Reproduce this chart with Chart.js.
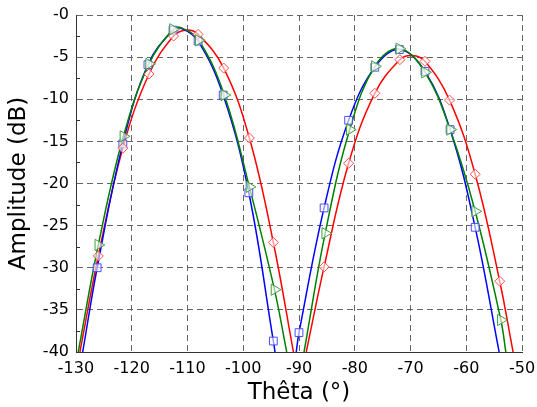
<!DOCTYPE html>
<html>
<head>
<meta charset="utf-8">
<script src="https://cdn.jsdelivr.net/npm/chart.js@4"></script>
<style>
  body { margin: 0; background: #fff; }
  .chart-box { width: 537px; height: 407px; }
  .chart-box canvas { display: block; }
</style>
</head>
<body>
<div class="chart-box"><canvas id="chart" width="537" height="407"></canvas></div>
<script>
// tick labels
const xTickValues = [-130, -120, -110, -100, -90, -80, -70, -60, -50];
const yTickLabels = ["-0", "-5", "-10", "-15", "-20", "-25", "-30", "-35", "-40"];

// blue (squares)
const blueMarkX = [-126.2, -121.6, -117.1, -112.6, -108.1, -103.6, -99.0, -94.6, -90.0, -85.5, -81.1, -76.4, -72.0, -67.4, -62.9, -58.4];
const blueMarkY = [-30.0, -15.3, -5.9, -1.8, -3.1, -9.5, -21.1, -38.7, -37.7, -22.9, -12.5, -6.2, -4.1, -6.7, -13.6, -25.2];
const blueCurveX = [-128.8, -126.2, -121.6, -117.1, -112.6, -111.0, -108.1, -103.6, -99.0, -94.6, -94.3, null, -90.5, -90.0, -85.5, -81.1, -76.4, -72.0, -67.4, -62.9, -58.4, -54.1];
const blueCurveY = [-40, -30.0, -15.3, -5.9, -1.8, -1.6, -3.1, -9.5, -21.1, -38.7, -40, null, -40, -37.7, -22.9, -12.5, -6.2, -4.1, -6.7, -13.6, -25.2, -40];

// green (triangles)
const greenMarkX = [-126.0, -121.5, -116.9, -112.6, -108.0, -103.4, -98.9, -94.4, -85.3, -80.9, -76.4, -72.0, -67.4, -62.9, -58.4, -53.8];
const greenMarkY = [-27.3, -14.4, -5.8, -1.7, -3.0, -9.5, -20.4, -32.6, -25.9, -13.6, -6.1, -4.0, -6.8, -13.6, -23.3, -36.2];
const greenCurveX = [-129.6, -126.0, -121.5, -116.9, -112.6, -111.2, -108.0, -103.4, -98.9, -94.4, -92.2, null, -89.1, -85.3, -80.9, -76.4, -72.0, -67.4, -62.9, -58.4, -53.8, -52.9];
const greenCurveY = [-40, -27.3, -14.4, -5.8, -1.7, -1.5, -3.0, -9.5, -20.4, -32.6, -40, null, -40, -25.9, -13.6, -6.1, -4.0, -6.8, -13.6, -23.3, -36.2, -40];

// red (diamonds)
const redMarkX = [-126.0, -121.6, -116.9, -112.5, -108.1, -103.5, -98.9, -94.6, -85.5, -81.1, -76.4, -71.9, -67.4, -63.0, -58.4, -54.0];
const redMarkY = [-28.6, -15.8, -7.0, -2.5, -2.3, -6.3, -14.6, -27.0, -29.9, -17.6, -9.3, -5.3, -5.5, -10.1, -18.9, -31.6];
const redCurveX = [-129.3, -126.0, -121.6, -116.9, -112.5, -110.3, -108.1, -103.5, -98.9, -94.6, -91.0, null, -88.7, -85.5, -81.1, -76.4, -71.9, -69.7, -67.4, -63.0, -58.4, -54.0, -51.6];
const redCurveY = [-40, -28.6, -15.8, -7.0, -2.5, -1.8, -2.3, -6.3, -14.6, -27.0, -40, null, -40, -29.9, -17.6, -9.3, -5.3, -4.8, -5.5, -10.1, -18.9, -31.6, -40];

// null in the x list = break between the two lobes
function pts(xs, ys) {
  return xs.map((x, i) => (x === null ? { x: (xs[i - 1] + xs[i + 1]) / 2, y: null } : { x: x, y: ys[i] }));
}

function curve(xs, ys, color, order) {
  return {
    data: pts(xs, ys),
    showLine: true,
    borderColor: color,
    borderWidth: 1.5,
    pointRadius: 0,
    tension: 0.4,
    spanGaps: false,
    fill: false,
    order: order,
  };
}

function marks(xs, ys, color, style, radius, rotation) {
  return {
    data: pts(xs, ys),
    showLine: false,
    pointStyle: style,
    pointRadius: radius,
    pointRotation: rotation,
    pointBorderColor: color,
    pointBackgroundColor: "rgba(255,255,255,0.6)",
    pointBorderWidth: 1,
    order: 0,
  };
}

// small inside ticks between the grid lines
const minorTicks = {
  id: "minorTicks",
  afterDraw(chart) {
    const { ctx, chartArea: a, scales: { x, y } } = chart;
    ctx.save();
    ctx.strokeStyle = "#333";
    ctx.lineWidth = 1;
    ctx.beginPath();
    for (let v = -125; v > -50; v += 10) {
      const px = Math.round(x.getPixelForValue(v)) + 0.5;
      ctx.moveTo(px, a.bottom);
      ctx.lineTo(px, a.bottom - 4);
    }
    for (let v = -37.5; v < 0; v += 5) {
      const py = Math.round(y.getPixelForValue(v)) + 0.5;
      ctx.moveTo(a.left, py);
      ctx.lineTo(a.left + 4, py);
    }
    ctx.stroke();
    ctx.restore();
  },
};

const tickFont = { family: "DejaVu Sans", size: 16 };
const titleFont = { family: "DejaVu Sans", size: 23 };

new Chart(document.getElementById("chart"), {
  type: "scatter",
  data: {
    datasets: [
      marks(greenMarkX, greenMarkY, "#3f9f3f", "triangle", 6.5, 90),
      marks(redMarkX, redMarkY, "#ff4d4d", "rectRot", 5, 0),
      marks(blueMarkX, blueMarkY, "#4d4dff", "rect", 5.5, 0),
      curve(redCurveX, redCurveY, "#ff0000", 3),
      curve(blueCurveX, blueCurveY, "#0000ff", 2),
      curve(greenCurveX, greenCurveY, "#008000", 1),
    ],
  },
  options: {
    responsive: false,
    animation: false,
    events: [],
    layout: { padding: { top: 15, right: 15, left: 0, bottom: 0 } },
    plugins: { legend: { display: false }, tooltip: { enabled: false } },
    scales: {
      x: {
        type: "linear",
        min: -130,
        max: -50,
        afterFit: (s) => { s.height = 55; s.paddingLeft = 0; s.paddingRight = 0; },
        afterBuildTicks: (s) => { s.ticks = xTickValues.map((v) => ({ value: v })); },
        ticks: { font: tickFont, color: "#000", padding: 7 },
        grid: { color: "#666", lineWidth: 1, drawTicks: false },
        border: { color: "#333", width: 1, dash: [6, 4] },
        title: { display: true, text: "Thêta (°)", font: titleFont, color: "#000", padding: { top: 0, bottom: 0 } },
      },
      y: {
        type: "linear",
        min: -40,
        max: 0,
        afterFit: (s) => { s.width = 76; s.paddingTop = 0; s.paddingBottom = 0; },
        afterBuildTicks: (s) => { s.ticks = yTickLabels.map((t) => ({ value: parseFloat(t) })); },
        ticks: {
          font: tickFont,
          color: "#000",
          padding: 7,
          callback: (v) => yTickLabels.find((t) => parseFloat(t) === v) || "",
        },
        grid: { color: "#666", lineWidth: 1, drawTicks: false },
        border: { color: "#333", width: 1, dash: [6, 4] },
        title: { display: true, text: "Amplitude (dB)", font: titleFont, color: "#000", padding: { top: 5, bottom: 0 } },
      },
    },
  },
  plugins: [minorTicks],
});
</script>
</body>
</html>
